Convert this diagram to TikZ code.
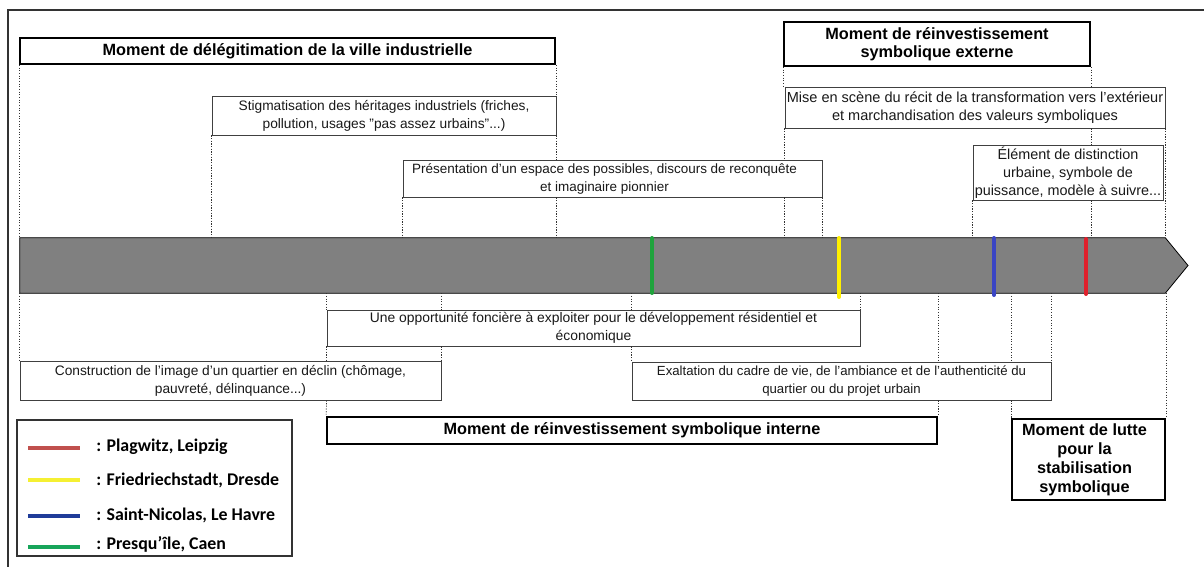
\documentclass[tikz,border=0pt]{standalone}
\usepackage{fontspec}
\setmainfont{Liberation Sans}
\newfontfamily\legfont{Carlito}
\usetikzlibrary{fit}
\definecolor{bargray}{HTML}{808080}
\definecolor{mkgreen}{HTML}{1FA33C}
\definecolor{mkyellow}{HTML}{FFF000}
\definecolor{mkblue}{HTML}{3A45C4}
\definecolor{mkred}{HTML}{E0202C}
\definecolor{lgred}{HTML}{C0504D}
\definecolor{lgyellow}{HTML}{F5F032}
\definecolor{lgblue}{HTML}{1F3C99}
\definecolor{lggreen}{HTML}{17A55A}
\tikzset{
  txtbox/.style={draw=black!75, line width=0.6pt, inner sep=0pt, fill=white},
  titlebox/.style={draw=black, line width=1.4pt, inner sep=0pt, fill=white},
  bodytext/.style={inner sep=0pt, align=center, text=black!90,
    font=\fontsize{#1}{13.5}\selectfont},
  bodytext/.default=10.3,
  titletext/.style={inner sep=0pt, align=center,
    font=\fontsize{12.2}{13.5}\selectfont\bfseries},
  dotline/.style={draw=black!80, line width=0.5pt, dash pattern=on 0.9pt off 1.1pt},
  marker/.style={line width=3pt, line cap=round},
  legline/.style={line width=2.6pt},
}
\begin{document}
\begin{tikzpicture}[x=0.75pt,y=-0.75pt]
\useasboundingbox (0,0) rectangle (1204,567);
% outer frame
\draw[black!80, line width=0.8pt] (8,590) -- (8,10) -- (1220,10);

% bar
\node[fit={(20,238) (1165,293)}, inner sep=0pt] (bar) {};
\draw[fill=bargray, draw=black, line width=0.6pt] (bar.north west) -- (bar.north east) -- (1188,265.5) coordinate (tip) -- (bar.south east) -- (bar.south west) -- cycle;

% top boxes
\node[titlebox, fit={(20,38) (555,64)}] (deleg) {};
\node[titletext] (deleg-t) at (deleg.center) {Moment de délégitimation de la ville industrielle};
\node[txtbox, fit={(212,96) (556,135)}] (stig) {};
\node[bodytext=10.3] (stig-t) at (stig.center) {Stigmatisation des héritages industriels (friches,\\ pollution, usages "pas assez urbains"...)};
\node[txtbox, fit={(403,160) (822,197)}] (pres) {};
\node[bodytext=10.1] (pres-t) at ([xshift=-6pt]pres.center) {Présentation d'un espace des possibles, discours de reconquête\\ et imaginaire pionnier};
\node[titlebox, fit={(784,22) (1090,66)}] (ext) {};
\node[titletext] (ext-t) at (ext.center) {Moment de réinvestissement\\ symbolique externe};
\node[txtbox, fit={(785,87) (1165,128)}] (mise) {};
\node[bodytext=10.9] (mise-t) at (mise.center) {Mise en scène du récit de la transformation vers l'extérieur\\ et marchandisation des valeurs symboliques};
\node[txtbox, fit={(973,145) (1163,200)}] (elem) {};
\node[bodytext=10.8] (elem-t) at (elem.center) {Élément de distinction\\ urbaine, symbole de\\ puissance, modèle à suivre...};

% bottom boxes
\node[txtbox, fit={(327,310) (860,346)}] (oppo) {};
\node[bodytext=10.4] (oppo-t) at (oppo.center) {Une opportunité foncière à exploiter pour le développement résidentiel et\\ économique};
\node[txtbox, fit={(20,361) (441,400)}] (constr) {};
\node[bodytext=10.3] (constr-t) at (constr.center) {Construction de l'image d'un quartier en déclin (chômage,\\ pauvreté, délinquance...)};
\node[txtbox, fit={(632,362) (1051,400)}] (exalt) {};
\node[bodytext=9.9] (exalt-t) at (exalt.center) {Exaltation du cadre de vie, de l'ambiance et de l'authenticité du\\ quartier ou du projet urbain};
\node[titlebox, fit={(327,417) (937,444)}] (interne) {};
\node[titletext] (interne-t) at (interne.center) {Moment de réinvestissement symbolique interne};
\node[titlebox, fit={(1012,419) (1165,500)}] (lutte) {};
\node[titletext, font=\fontsize{12.2}{14.3}\selectfont\bfseries] (lutte-t) at ([xshift=-3pt]lutte.center) {Moment de lutte\\ pour la\\ stabilisation\\ symbolique};

% dotted lines above the bar
\draw[dotline] (deleg.south west) -- (deleg.south west |- bar.north);
\draw[dotline] (deleg.south east) -- (deleg.south east |- stig.north);
\draw[dotline] (stig.south east) -- (stig.south east |- pres.north);
\draw[dotline] (stig.south east |- pres.south) -- (stig.south east |- bar.north);
\draw[dotline] (stig.south west) -- (stig.south west |- bar.north);
\draw[dotline] (pres.south west) -- (pres.south west |- bar.north);
\draw[dotline] (pres.south east) -- (pres.south east |- bar.north);
\draw[dotline] (ext.south west) -- (ext.south west |- mise.north);
\draw[dotline] (mise.south west) -- (mise.south west |- pres.north);
\draw[dotline] (mise.south west |- pres.south) -- (mise.south west |- bar.north);
\draw[dotline] (ext.south east) -- (ext.south east |- mise.north);
\draw[dotline] (ext.south east |- mise.south) -- (ext.south east |- elem.north);
\draw[dotline] (ext.south east |- elem.south) -- (ext.south east |- bar.north);
\draw[dotline] (mise.south east) -- (mise.south east |- bar.north);
\draw[dotline] (elem.south west) -- (elem.south west |- bar.north);

% dotted lines below the bar
\draw[dotline] (constr.north west |- bar.south) -- (constr.north west);
\draw[dotline] (oppo.north west |- bar.south) -- (oppo.north west);
\draw[dotline] (oppo.south west) -- (oppo.south west |- constr.north);
\draw[dotline] (oppo.south west |- constr.south) -- (interne.north west);
\draw[dotline] (constr.north east |- bar.south) -- (constr.north east |- oppo.north);
\draw[dotline] (constr.north east |- oppo.south) -- (constr.north east);
\draw[dotline] (exalt.north west |- bar.south) -- (exalt.north west |- oppo.north);
\draw[dotline] (exalt.north west |- oppo.south) -- (exalt.north west);
\draw[dotline] (oppo.north east |- bar.south) -- (oppo.north east);
\draw[dotline] (interne.north east |- bar.south) -- (interne.north east |- exalt.north);
\draw[dotline] (interne.north east |- exalt.south) -- (interne.north east);
\draw[dotline] (lutte.north west |- bar.south) -- (lutte.north west |- exalt.north);
\draw[dotline] (lutte.north west |- exalt.south) -- (lutte.north west);
\draw[dotline] (exalt.north east |- bar.south) -- (exalt.north east);
\draw[dotline] (lutte.north east |- bar.south) -- (lutte.north east);

% markers on the bar
\draw[marker, mkgreen] (652,238) -- (652,293);
\draw[marker, mkyellow] (839,238) -- (839,297);
\draw[marker, mkblue] (994,238) -- (994,295);
\draw[marker, mkred] (1086,239) -- (1086,294);

% legend
\node[draw=black!80, line width=0.8pt, fit={(17,420) (292,556)}, inner sep=0pt] (legend) {};
\begin{scope}[font=\legfont\fontsize{13.4}{15}\selectfont\bfseries]
\draw[legline, lgred] (28,448) -- (80,448);
\node[anchor=west, inner sep=0pt] (l1) at (96,447) {: Plagwitz, Leipzig};
\draw[legline, lgyellow] (28,480) -- (80,480);
\node[anchor=west, inner sep=0pt] (l2) at (96,480) {: Friedriechstadt, Dresde};
\draw[legline, lgblue] (28,516) -- (80,516);
\node[anchor=west, inner sep=0pt] (l3) at (96,515) {: Saint-Nicolas, Le Havre};
\draw[legline, lggreen] (28,547) -- (80,547);
\node[anchor=west, inner sep=0pt] (l4) at (96,544) {: Presqu’île, Caen};
\end{scope}
\end{tikzpicture}
\end{document}
